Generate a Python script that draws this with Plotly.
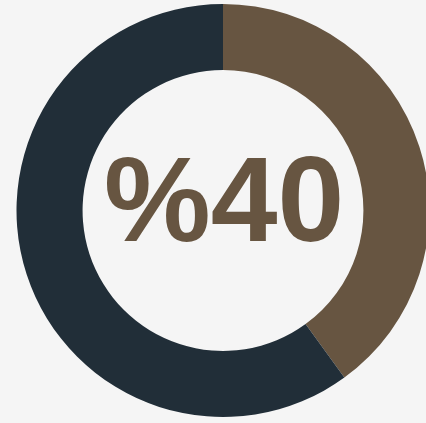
import plotly.graph_objects as go

labels = ["Achieved", "Remaining"]
values = [40, 60]
colors = ["#675541", "#212e38"]
center_text = "%40"

W, H = 434, 423
cx, cy, r = 223.0, 210.5, 206.5
fig = go.Figure(go.Pie(
    labels=labels,
    values=values,
    hole=0.68,
    sort=False,
    direction="clockwise",
    rotation=0,
    marker=dict(colors=colors, line=dict(width=0)),
    textinfo="none",
    hoverinfo="label+percent",
    domain=dict(x=[(cx - r) / W, (cx + r) / W],
                y=[1 - (cy + r) / H, 1 - (cy - r) / H]),
    showlegend=False,
))
fig.add_annotation(
    text="<b>" + center_text + "</b>",
    x=224.5 / W, y=1 - 199 / H, xref="paper", yref="paper",
    showarrow=False,
    font=dict(family="Liberation Sans, Arial, sans-serif", size=120, color="#675541"),
)
fig.update_layout(
    width=W, height=H,
    margin=dict(l=0, r=0, t=0, b=0),
    paper_bgcolor="#f5f5f5",
    plot_bgcolor="#f5f5f5",
)
fig.write_html(
    "out.html",
    config={"displayModeBar": False},
    post_script="document.documentElement.style.overflow='hidden';"
                "document.body.style.margin='0';"
                "document.body.style.overflow='hidden';"
                "document.body.style.background='#f5f5f5';",
)
